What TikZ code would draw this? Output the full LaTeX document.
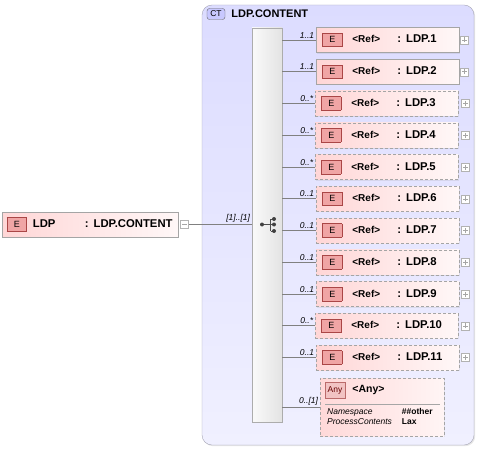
\documentclass[tikz,border=0pt]{standalone}
\usepackage{fontspec}
\setmainfont{Liberation Sans}
\usetikzlibrary{positioning,shadows}

\definecolor{ctfill}{RGB}{220,220,255}
\definecolor{ctfillb}{RGB}{240,240,255}
\definecolor{ctborder}{RGB}{165,165,180}
\definecolor{tagfill}{RGB}{240,165,165}
\definecolor{tagborder}{RGB}{170,70,70}
\definecolor{anytagfill}{RGB}{242,195,195}
\definecolor{linegray}{RGB}{128,128,128}
\definecolor{boxgray}{RGB}{165,165,165}

\newcommand{\namefont}{\fontsize{11.3}{12}\selectfont\bfseries}
\newcommand{\reffont}{\fontsize{10}{12}\selectfont\bfseries}
\newcommand{\etag}{{\setlength{\fboxsep}{0pt}\setlength{\fboxrule}{0.6pt}%
  \fcolorbox{tagborder}{tagfill}{\makebox[19pt]{\rule[-3.5pt]{0pt}{13pt}\fontsize{9}{9}\selectfont E}}}}
\newcommand{\refel}[1]{\etag\hspace{10pt}\makebox[45pt][l]{\reffont <Ref>}{\namefont : #1}}

\tikzset{
  elbox/.style={draw=boxgray, left color=red!16, right color=red!3,
    minimum width=143pt, minimum height=25pt, inner xsep=6pt, inner ysep=0pt,
    text width=131pt, align=left, anchor=west,
    drop shadow={shadow xshift=1.2pt, shadow yshift=-1.2pt, opacity=0.15}},
  optbox/.style={elbox, dash pattern=on 3pt off 2pt},
  plusbox/.style={draw=gray!60, fill=white, minimum size=8pt, inner sep=0pt,
    path picture={\draw[gray!70, line width=0.5pt]
      ([xshift=-2.5pt]path picture bounding box.center) -- ([xshift=2.5pt]path picture bounding box.center)
      ([yshift=-2.5pt]path picture bounding box.center) -- ([yshift=2.5pt]path picture bounding box.center);}},
  minusbox/.style={plusbox, path picture={\draw[gray!70, line width=0.5pt]
      ([xshift=-2.5pt]path picture bounding box.center) -- ([xshift=2.5pt]path picture bounding box.center);}},
  conn/.style={draw=linegray, line width=0.7pt},
  mult/.style={pos=1, above left, inner sep=1.5pt, font=\fontsize{8.5}{9}\selectfont\itshape},
  ctframe/.style={draw=ctborder, top color=ctfill, bottom color=ctfillb, rounded corners=10pt,
    minimum width=272pt, minimum height=440pt,
    drop shadow={shadow xshift=1.2pt, shadow yshift=-1.2pt, opacity=0.2}},
  cttag/.style={draw=black!60, fill=ctfill!60!blue!45, rounded corners=2.5pt, minimum width=18pt,
    minimum height=11pt, inner sep=0pt, font=\fontsize{8.5}{9}\selectfont},
  cttitle/.style={inner sep=0pt, font=\fontsize{11}{12}\selectfont\bfseries},
  seqbar/.style={draw=gray!65, left color=gray!4, right color=gray!22,
    minimum width=30pt, minimum height=394pt, inner sep=0pt},
  anybox/.style={draw=boxgray, dash pattern=on 3pt off 2pt, left color=red!15, right color=red!4,
    minimum width=124pt, minimum height=58pt,
    drop shadow={shadow xshift=1.2pt, shadow yshift=-1.2pt, opacity=0.15}},
  anytag/.style={draw=tagborder!80, fill=anytagfill, minimum width=20pt, minimum height=16pt,
    inner sep=0pt, text=red!40!black, font=\fontsize{8.5}{9}\selectfont},
  anytitle/.style={inner sep=0pt, font=\fontsize{10.5}{12}\selectfont\bfseries},
  anyattr/.style={inner sep=0pt, anchor=west, font=\fontsize{8.5}{9.5}\selectfont}
}

\begin{document}
\begin{tikzpicture}[x=1pt, y=-1pt]
  \useasboundingbox (0,0) rectangle (478,449);

  % complex type frame
  \node[ctframe] (ct) at (338,225) {};
  \node[cttag] (cttag) at (216,14) {CT};
  \node[cttitle, right=6pt of cttag] (ctname) {LDP.CONTENT};

  % sequence
  \node[seqbar] (seq) at (267,225) {};
  \coordinate (sqc) at (262,224.5);
  \coordinate (sqt) at (270.5,219);
  \coordinate (sqb) at (270.5,231);
  \draw[black!70, line width=0.7pt] (sqc) -- (sqc -| sqt) (sqt) -- (sqb)
    (sqt) -- ++(3.5,0) (sqc -| sqt) -- ++(3.5,0) (sqb) -- ++(3.5,0);
  \fill[black!75] (sqc) circle (2pt) ([xshift=3.5pt]sqt) circle (2pt)
    ([xshift=3.5pt]sqc -| sqt) circle (2pt) ([xshift=3.5pt]sqb) circle (2pt);

  % root element
  \node[elbox, minimum width=176pt, text width=167pt, inner xsep=4.5pt] (root) at (2,224.5)
    {\etag\hspace{6pt}\makebox[52pt][l]{\namefont LDP}{\namefont : LDP.CONTENT}};
  \node[minusbox, right=2pt of root] (m0) {};
  \draw[conn] (m0) -- node[mult] {[1]..[1]} (seq.west |- m0);

  % children
  \node[elbox]  (e1)  at (316,40)     {\refel{LDP.1}};
  \node[elbox]  (e2)  at (316,71.75)  {\refel{LDP.2}};
  \node[optbox] (e3)  at (315,103.5)  {\refel{LDP.3}};
  \node[optbox] (e4)  at (315,135.25) {\refel{LDP.4}};
  \node[optbox] (e5)  at (315,167)    {\refel{LDP.5}};
  \node[optbox] (e6)  at (316,198.75) {\refel{LDP.6}};
  \node[optbox] (e7)  at (316,230.5)  {\refel{LDP.7}};
  \node[optbox] (e8)  at (316,262.25) {\refel{LDP.8}};
  \node[optbox] (e9)  at (316,294)    {\refel{LDP.9}};
  \node[optbox] (e10) at (315,325.75) {\refel{LDP.10}};
  \node[optbox] (e11) at (316,357.5)  {\refel{LDP.11}};

  \node[plusbox, right=1pt of e1]  (p1)  {};
  \node[plusbox, right=1pt of e2]  (p2)  {};
  \node[plusbox, right=3pt of e3]  (p3)  {};
  \node[plusbox, right=3pt of e4]  (p4)  {};
  \node[plusbox, right=3pt of e5]  (p5)  {};
  \node[plusbox, right=2pt of e6]  (p6)  {};
  \node[plusbox, right=2pt of e7]  (p7)  {};
  \node[plusbox, right=2pt of e8]  (p8)  {};
  \node[plusbox, right=2pt of e9]  (p9)  {};
  \node[plusbox, right=3pt of e10] (p10) {};
  \node[plusbox, right=2pt of e11] (p11) {};

  \draw[conn] (seq.east |- e1)  -- node[mult] {1..1} (e1);
  \draw[conn] (seq.east |- e2)  -- node[mult] {1..1} (e2);
  \draw[conn] (seq.east |- e3)  -- node[mult] {0..*} (e3);
  \draw[conn] (seq.east |- e4)  -- node[mult] {0..*} (e4);
  \draw[conn] (seq.east |- e5)  -- node[mult] {0..*} (e5);
  \draw[conn] (seq.east |- e6)  -- node[mult] {0..1} (e6);
  \draw[conn] (seq.east |- e7)  -- node[mult] {0..1} (e7);
  \draw[conn] (seq.east |- e8)  -- node[mult] {0..1} (e8);
  \draw[conn] (seq.east |- e9)  -- node[mult] {0..1} (e9);
  \draw[conn] (seq.east |- e10) -- node[mult] {0..*} (e10);
  \draw[conn] (seq.east |- e11) -- node[mult] {0..1} (e11);

  % any element
  \node[anybox] (anyel) at (382,407) {};
  \node[anytag, below right=4pt and 5pt of anyel.north west] (anyt) {Any};
  \node[anytitle, right=7pt of anyt] (anyname) {<Any>};
  \coordinate (sepl) at (325,404.5);
  \coordinate (sepr) at (440,404.5);
  \draw[gray!70, line width=0.6pt] (sepl) -- (sepr);
  \node[anyattr] (attrs) at (327,417.5) {\begin{tabular}{@{}l@{\hspace{10pt}}l@{}}
    \itshape Namespace & \bfseries \#\#other\\
    \itshape ProcessContents & \bfseries Lax
  \end{tabular}};
  \draw[conn] (seq.east |- anyel) -- node[mult] {0..[1]} (anyel);
\end{tikzpicture}
\end{document}
